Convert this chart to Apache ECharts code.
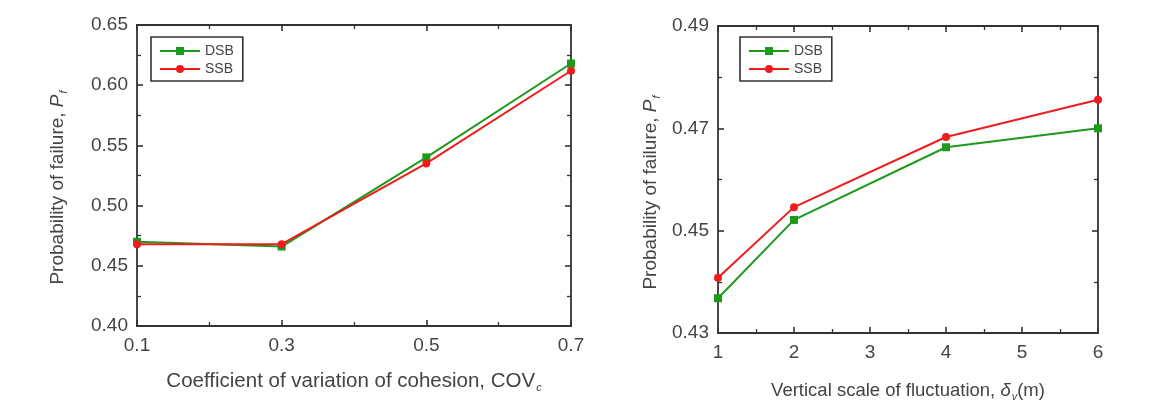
<!DOCTYPE html>
<html><head><meta charset="utf-8">
<script src="https://cdn.jsdelivr.net/npm/echarts@6/dist/echarts.min.js"></script>
<style>html,body{margin:0;padding:0;background:#fff}#c{width:1169px;height:412px}</style>
</head><body><div id="c"></div>
<script>
// Left chart: coefficient of variation of cohesion
const covX = [0.1, 0.3, 0.5, 0.7];
const covDSB = [0.470, 0.466, 0.540, 0.618];
const covSSB = [0.468, 0.468, 0.535, 0.612];
// Right chart: vertical scale of fluctuation
const sofX = [1, 2, 4, 6];
const sofDSB = [0.4368, 0.4521, 0.4663, 0.4700];
const sofSSB = [0.4408, 0.4546, 0.4683, 0.4756];
const seriesNames = ['DSB', 'SSB'];

const GREEN = '#1c9a1c', RED = '#ee1c1c', AX = '#333', TXT = '#444';
const FONT = 'Liberation Sans, Arial, sans-serif';
const TICK_FS = 19;

function pairs(xs, ys){ return xs.map((x,i)=>[x, ys[i]]); }

function axisCommon(extra){
  return Object.assign({
    type:'value',
    axisLine:{show:true, onZero:false, lineStyle:{color:AX, width:1.8}},
    axisTick:{show:true, inside:true, length:6, lineStyle:{color:AX, width:1.6}},
    minorTick:{show:true, splitNumber:2, length:4, lineStyle:{color:AX, width:1.3}},
    splitLine:{show:false},
    axisLabel:{color:TXT, fontSize:TICK_FS, fontFamily:FONT}
  }, extra);
}

function legendAt(left, top){
  return {data:seriesNames, orient:'vertical', left:left, top:top, itemWidth:40, itemHeight:10, itemGap:4,
    padding:[7,9,5,8], borderColor:AX, borderWidth:1.6, borderRadius:0,
    textStyle:{color:TXT, fontSize:14, fontFamily:FONT}};
}

function rich(fs){
  return {
    i:{fontSize:fs, fontStyle:'italic', color:TXT, fontFamily:FONT},
    s:{fontSize:fs, color:TXT, fontFamily:FONT},
    sub:{fontSize:11, fontStyle:'italic', color:TXT, fontFamily:FONT, padding:[12,0,0,1]}
  };
}

const chart = echarts.init(document.getElementById('c'), null, {renderer:'canvas'});
const option = {
  backgroundColor:'#fff',
  animation:false,
  grid:[
    {left:137, top:25, width:434, height:301},
    {left:718, top:26, width:380, height:307}
  ],
  legend:[legendAt(151, 37), legendAt(740, 37)],
  xAxis:[
    axisCommon({gridIndex:0, position:'bottom', min:0.1, max:0.7, interval:0.2,
      axisLabel:{color:TXT, fontSize:TICK_FS, fontFamily:FONT, margin:10, formatter:v=>v.toFixed(1)},
      name:'Coefficient of variation of cohesion, {s|COV}{sub|c}', nameLocation:'middle', nameGap:44,
      nameTextStyle:{color:TXT, fontSize:20.5, fontFamily:FONT, rich:rich(20.5)}}),
    axisCommon({gridIndex:0, position:'top', min:0.1, max:0.7, interval:0.2, axisLabel:{show:false}}),
    axisCommon({gridIndex:1, position:'bottom', min:1, max:6, interval:1,
      axisLabel:{color:TXT, fontSize:TICK_FS, fontFamily:FONT, margin:10},
      name:'Vertical scale of fluctuation, {i|δ}{sub|v}(m)', nameLocation:'middle', nameGap:46,
      nameTextStyle:{color:TXT, fontSize:18.5, fontFamily:FONT, rich:rich(18.5)}}),
    axisCommon({gridIndex:1, position:'top', min:1, max:6, interval:1, axisLabel:{show:false}})
  ],
  yAxis:[
    axisCommon({gridIndex:0, position:'left', min:0.40, max:0.65, interval:0.05,
      axisLabel:{color:TXT, fontSize:TICK_FS, fontFamily:FONT, margin:9, formatter:v=>v.toFixed(2)},
      name:'Probability of failure, {i|P}{sub|f}', nameLocation:'middle', nameGap:68, nameRotate:90,
      nameTextStyle:{color:TXT, fontSize:19, fontFamily:FONT, rich:rich(19), padding:[0,24,0,0]}}),
    axisCommon({gridIndex:0, position:'right', min:0.40, max:0.65, interval:0.05, axisLabel:{show:false}}),
    axisCommon({gridIndex:1, position:'left', min:0.43, max:0.49, interval:0.02,
      axisLabel:{color:TXT, fontSize:TICK_FS, fontFamily:FONT, margin:9, formatter:v=>v.toFixed(2)},
      name:'Probability of failure, {i|P}{sub|f}', nameLocation:'middle', nameGap:56, nameRotate:90,
      nameTextStyle:{color:TXT, fontSize:19, fontFamily:FONT, rich:rich(19), padding:[0,26,0,0]}}),
    axisCommon({gridIndex:1, position:'right', min:0.43, max:0.49, interval:0.02, axisLabel:{show:false}})
  ],
  series:[
    {name:'DSB', type:'line', xAxisIndex:0, yAxisIndex:0, data:pairs(covX, covDSB), symbol:'rect', symbolSize:8,
     lineStyle:{color:GREEN, width:2}, itemStyle:{color:GREEN}, z:2},
    {name:'SSB', type:'line', xAxisIndex:0, yAxisIndex:0, data:pairs(covX, covSSB), symbol:'circle', symbolSize:8,
     lineStyle:{color:RED, width:2}, itemStyle:{color:RED}, z:3},
    {name:'DSB', type:'line', xAxisIndex:2, yAxisIndex:2, data:pairs(sofX, sofDSB), symbol:'rect', symbolSize:8,
     lineStyle:{color:GREEN, width:2}, itemStyle:{color:GREEN}, z:2},
    {name:'SSB', type:'line', xAxisIndex:2, yAxisIndex:2, data:pairs(sofX, sofSSB), symbol:'circle', symbolSize:8,
     lineStyle:{color:RED, width:2}, itemStyle:{color:RED}, z:3}
  ]
};
chart.setOption(option);
</script></body></html>
